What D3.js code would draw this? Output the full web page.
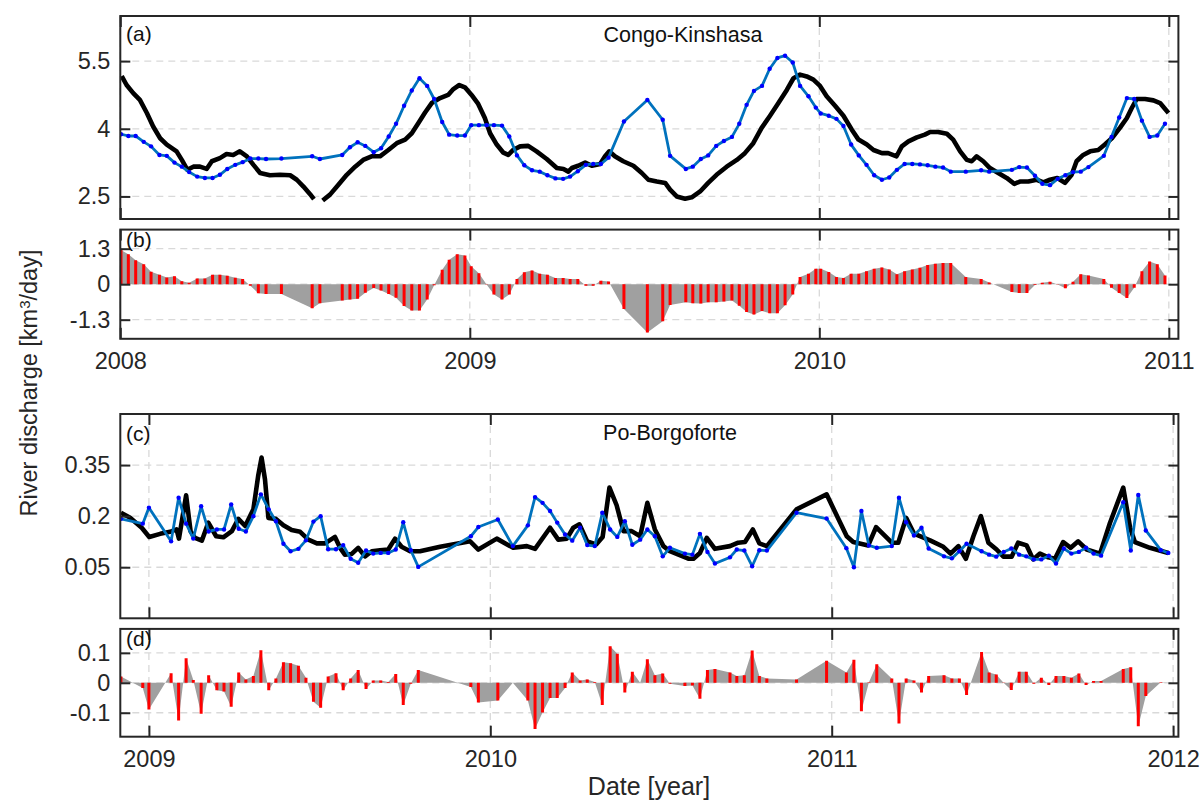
<!DOCTYPE html>
<html>
<head>
<meta charset="utf-8">
<script src="https://cdn.jsdelivr.net/npm/d3@7"></script>
<style>
  html, body { margin: 0; padding: 0; background: #fff; }
  svg { display: block; }
  text { font-family: 'Liberation Sans', Arial, Helvetica, sans-serif; }
</style>
</head>
<body>
<svg id="chart" width="1201" height="803"></svg>
<script>
// ---------------- Congo at Kinshasa (2008-2010) ----------------
// gauge record (decimal year, km3/day); null marks the missing stretch
const congoGaugeYear = [
  2008.004, 2008.018, 2008.037, 2008.056, 2008.076, 2008.094, 2008.114, 2008.133, 2008.161, 2008.176,
  2008.192, 2008.209, 2008.228, 2008.247, 2008.262, 2008.285, 2008.304, 2008.323, 2008.342, 2008.362,
  2008.381, 2008.400, 2008.428, 2008.457, 2008.486, 2008.505, 2008.524, 2008.543, 2008.554, 2008.566,
  2008.579, 2008.600, 2008.624, 2008.648, 2008.672, 2008.695, 2008.719, 2008.743, 2008.767, 2008.791,
  2008.815, 2008.834, 2008.853, 2008.872, 2008.891, 2008.915, 2008.938, 2008.953, 2008.970, 2008.986,
  2009.005, 2009.024, 2009.043, 2009.058, 2009.077, 2009.096, 2009.110, 2009.124, 2009.144, 2009.167,
  2009.191, 2009.220, 2009.249, 2009.268, 2009.282, 2009.292, 2009.310, 2009.330, 2009.349, 2009.373,
  2009.387, 2009.399, 2009.415, 2009.439, 2009.468, 2009.492, 2009.511, 2009.535, 2009.559, 2009.573,
  2009.592, 2009.616, 2009.635, 2009.659, 2009.682, 2009.706, 2009.735, 2009.764, 2009.787, 2009.811,
  2009.835, 2009.859, 2009.883, 2009.907, 2009.926, 2009.945, 2009.964, 2009.983, 2010.002, 2010.021,
  2010.045, 2010.069, 2010.093, 2010.112, 2010.136, 2010.155, 2010.179, 2010.197, 2010.221, 2010.236,
  2010.255, 2010.279, 2010.302, 2010.317, 2010.340, 2010.365, 2010.383, 2010.403, 2010.422, 2010.436,
  2010.450, 2010.469, 2010.488, 2010.512, 2010.536, 2010.558, 2010.574, 2010.598, 2010.622, 2010.641,
  2010.660, 2010.681, 2010.703, 2010.722, 2010.736, 2010.755, 2010.775, 2010.798, 2010.817, 2010.837,
  2010.860, 2010.880, 2010.894, 2010.908, 2010.932, 2010.956, 2010.975, 2010.999
];
const congoGaugeQ = [
  5.17, 4.97, 4.79, 4.64, 4.35, 4.05, 3.79, 3.65, 3.50, 3.31,
  3.09, 3.16, 3.16, 3.11, 3.28, 3.35, 3.44, 3.42, 3.50, 3.39,
  3.20, 3.02, 2.97, 2.98, 2.97, 2.87, 2.72, 2.55, 2.44, null,
  2.41, 2.54, 2.76, 2.98, 3.16, 3.31, 3.39, 3.39, 3.53, 3.68,
  3.76, 3.90, 4.13, 4.36, 4.57, 4.68, 4.75, 4.88, 4.97, 4.92,
  4.75, 4.55, 4.24, 3.90, 3.65, 3.47, 3.42, 3.53, 3.61, 3.62,
  3.50, 3.33, 3.13, 3.11, 3.05, 3.13, 3.18, 3.25, 3.18, 3.22,
  3.39, 3.50, 3.39, 3.28, 3.18, 3.02, 2.87, 2.83, 2.80, 2.65,
  2.50, 2.45, 2.48, 2.61, 2.80, 2.98, 3.16, 3.31, 3.46, 3.68,
  4.02, 4.29, 4.57, 4.86, 5.12, 5.20, 5.16, 5.09, 4.95, 4.72,
  4.51, 4.29, 3.98, 3.76, 3.65, 3.53, 3.46, 3.46, 3.39, 3.61,
  3.72, 3.81, 3.87, 3.93, 3.93, 3.89, 3.76, 3.50, 3.31, 3.28,
  3.39, 3.28, 3.13, 3.02, 2.91, 2.78, 2.83, 2.83, 2.87, 2.81,
  2.87, 2.91, 2.80, 2.98, 3.28, 3.42, 3.50, 3.53, 3.65, 3.79,
  4.02, 4.24, 4.46, 4.66, 4.66, 4.63, 4.57, 4.35
];
// altimetry-based estimate, one value per pass
const congoEstYear = [
  2008.002, 2008.023, 2008.044, 2008.067, 2008.088, 2008.112, 2008.133, 2008.155, 2008.176, 2008.197,
  2008.220, 2008.242, 2008.264, 2008.285, 2008.306, 2008.329, 2008.350, 2008.372, 2008.395, 2008.417,
  2008.461, 2008.549, 2008.571, 2008.635, 2008.657, 2008.679, 2008.701, 2008.725, 2008.746, 2008.768,
  2008.789, 2008.812, 2008.834, 2008.856, 2008.878, 2008.898, 2008.921, 2008.941, 2008.964, 2008.986,
  2009.004, 2009.026, 2009.048, 2009.069, 2009.092, 2009.113, 2009.135, 2009.156, 2009.178, 2009.200,
  2009.222, 2009.245, 2009.267, 2009.287, 2009.309, 2009.332, 2009.353, 2009.375, 2009.397, 2009.441,
  2009.508, 2009.552, 2009.573, 2009.618, 2009.638, 2009.661, 2009.682, 2009.705, 2009.727, 2009.750,
  2009.771, 2009.792, 2009.813, 2009.836, 2009.858, 2009.880, 2009.902, 2009.924, 2009.945, 2009.969,
  2009.990, 2010.004, 2010.027, 2010.049, 2010.069, 2010.091, 2010.113, 2010.135, 2010.157, 2010.179,
  2010.200, 2010.222, 2010.244, 2010.266, 2010.288, 2010.310, 2010.332, 2010.354, 2010.376, 2010.419,
  2010.463, 2010.486, 2010.551, 2010.572, 2010.594, 2010.617, 2010.638, 2010.660, 2010.682, 2010.704,
  2010.726, 2010.748, 2010.770, 2010.814, 2010.836, 2010.858, 2010.880, 2010.901, 2010.923, 2010.945,
  2010.967, 2010.989
];
const congoEstQ = [
  3.88, 3.84, 3.84, 3.71, 3.61, 3.42, 3.40, 3.25, 3.16, 3.04,
  2.94, 2.91, 2.91, 2.98, 3.11, 3.20, 3.26, 3.34, 3.34, 3.33,
  3.34, 3.39, 3.33, 3.42, 3.59, 3.70, 3.62, 3.48, 3.57, 3.83,
  4.11, 4.51, 4.85, 5.12, 4.95, 4.66, 4.15, 3.87, 3.85, 3.85,
  4.08, 4.08, 4.08, 4.08, 4.07, 3.83, 3.41, 3.19, 3.08, 3.05,
  2.97, 2.90, 2.89, 2.94, 3.06, 3.20, 3.22, 3.22, 3.36, 4.16,
  4.64, 4.20, 3.40, 3.11, 3.16, 3.33, 3.41, 3.62, 3.73, 3.82,
  4.11, 4.53, 4.84, 4.95, 5.33, 5.57, 5.62, 5.47, 4.95, 4.72,
  4.47, 4.34, 4.29, 4.22, 4.06, 3.65, 3.41, 3.20, 2.97, 2.87,
  2.92, 3.09, 3.22, 3.22, 3.21, 3.19, 3.16, 3.14, 3.05, 3.05,
  3.08, 3.05, 3.09, 3.15, 3.14, 2.96, 2.78, 2.75, 2.89, 2.97,
  3.04, 3.05, 3.15, 3.40, 3.82, 4.25, 4.68, 4.66, 4.18, 3.82,
  3.85, 4.11
];
// gauge minus estimate at each pass
const congoDiff = [
  1.25, 1.10, 0.88, 0.73, 0.46, 0.35, 0.25, 0.29, 0.11, 0.05,
  0.21, 0.21, 0.35, 0.35, 0.31, 0.24, 0.19, -0.06, -0.33, -0.36,
  -0.36, -0.88, -0.70, -0.60, -0.56, -0.53, -0.31, -0.14, -0.23, -0.36,
  -0.50, -0.80, -0.96, -0.96, -0.56, -0.04, 0.53, 0.90, 1.10, 1.05,
  0.66, 0.40, -0.01, -0.38, -0.56, -0.38, 0.19, 0.44, 0.50, 0.38,
  0.35, 0.23, 0.23, 0.19, 0.19, -0.06, -0.06, 0.13, 0.10, -0.91,
  -1.77, -1.36, -0.76, -0.66, -0.70, -0.71, -0.66, -0.66, -0.63, -0.60,
  -0.79, -1.02, -1.11, -0.98, -1.06, -1.06, -0.77, -0.38, 0.26, 0.38,
  0.57, 0.57, 0.45, 0.26, 0.23, 0.38, 0.38, 0.47, 0.57, 0.61,
  0.54, 0.36, 0.47, 0.54, 0.60, 0.70, 0.75, 0.78, 0.78, 0.26,
  0.19, 0.06, -0.29, -0.32, -0.32, -0.03, 0.05, 0.09, -0.01, -0.15,
  0.09, 0.36, 0.32, 0.19, -0.13, -0.32, -0.51, -0.13, 0.47, 0.83,
  0.73, 0.32
];

// ---------------- Po at Borgoforte (Dec 2008 - 2011) ----------------
const poGaugeYear = [
  2008.918, 2008.945, 2008.979, 2009.001, 2009.033, 2009.062, 2009.081, 2009.088, 2009.109, 2009.122,
  2009.135, 2009.155, 2009.174, 2009.197, 2009.218, 2009.243, 2009.262, 2009.282, 2009.306, 2009.320,
  2009.330, 2009.340, 2009.350, 2009.372, 2009.394, 2009.418, 2009.443, 2009.467, 2009.492, 2009.516,
  2009.545, 2009.560, 2009.574, 2009.594, 2009.613, 2009.633, 2009.653, 2009.677, 2009.701, 2009.721,
  2009.740, 2009.765, 2009.794, 2009.853, 2009.941, 2009.965, 2010.019, 2010.067, 2010.107, 2010.131,
  2010.175, 2010.199, 2010.224, 2010.243, 2010.261, 2010.284, 2010.310, 2010.329, 2010.349, 2010.370,
  2010.390, 2010.414, 2010.439, 2010.460, 2010.482, 2010.507, 2010.526, 2010.551, 2010.580, 2010.595,
  2010.614, 2010.634, 2010.658, 2010.702, 2010.726, 2010.746, 2010.769, 2010.788, 2010.810, 2010.897,
  2010.985, 2011.044, 2011.063, 2011.107, 2011.130, 2011.176, 2011.195, 2011.218, 2011.241, 2011.288,
  2011.327, 2011.348, 2011.371, 2011.393, 2011.415, 2011.437, 2011.459, 2011.483, 2011.503, 2011.527,
  2011.546, 2011.571, 2011.590, 2011.610, 2011.634, 2011.654, 2011.678, 2011.700, 2011.722, 2011.747,
  2011.786, 2011.815, 2011.854, 2011.874, 2011.888, 2011.932, 2011.986
];
const poGaugeQ = [
  0.210, 0.195, 0.166, 0.139, 0.148, 0.154, 0.161, 0.134, 0.261, 0.156,
  0.136, 0.128, 0.181, 0.141, 0.138, 0.156, 0.192, 0.171, 0.220, 0.318,
  0.372, 0.308, 0.195, 0.192, 0.173, 0.159, 0.154, 0.131, 0.120, 0.120,
  0.139, 0.107, 0.087, 0.089, 0.107, 0.082, 0.097, 0.100, 0.102, 0.134,
  0.110, 0.097, 0.097, 0.110, 0.126, 0.102, 0.134, 0.107, 0.112, 0.104,
  0.166, 0.131, 0.134, 0.166, 0.176, 0.126, 0.117, 0.139, 0.284, 0.232,
  0.156, 0.156, 0.141, 0.239, 0.161, 0.112, 0.097, 0.087, 0.075, 0.075,
  0.092, 0.136, 0.104, 0.112, 0.122, 0.124, 0.161, 0.120, 0.112, 0.220,
  0.264, 0.141, 0.124, 0.114, 0.168, 0.122, 0.122, 0.195, 0.149, 0.129,
  0.110, 0.090, 0.112, 0.075, 0.141, 0.200, 0.122, 0.102, 0.081, 0.081,
  0.122, 0.114, 0.073, 0.090, 0.079, 0.075, 0.124, 0.107, 0.126, 0.102,
  0.090, 0.180, 0.284, 0.166, 0.124, 0.107, 0.092
];
const poEstYear = [
  2008.918, 2008.982, 2009.000, 2009.065, 2009.087, 2009.109, 2009.130, 2009.153, 2009.175, 2009.199,
  2009.220, 2009.241, 2009.263, 2009.284, 2009.306, 2009.328, 2009.351, 2009.372, 2009.394, 2009.415,
  2009.438, 2009.460, 2009.482, 2009.503, 2009.525, 2009.548, 2009.569, 2009.591, 2009.613, 2009.636,
  2009.657, 2009.679, 2009.701, 2009.723, 2009.745, 2009.767, 2009.789, 2009.943, 2009.965, 2010.022,
  2010.066, 2010.110, 2010.131, 2010.153, 2010.175, 2010.196, 2010.219, 2010.240, 2010.263, 2010.284,
  2010.306, 2010.328, 2010.351, 2010.372, 2010.394, 2010.416, 2010.439, 2010.460, 2010.482, 2010.505,
  2010.526, 2010.570, 2010.592, 2010.614, 2010.636, 2010.658, 2010.702, 2010.722, 2010.744, 2010.767,
  2010.788, 2010.810, 2010.897, 2010.985, 2011.043, 2011.065, 2011.087, 2011.109, 2011.132, 2011.176,
  2011.197, 2011.218, 2011.241, 2011.263, 2011.284, 2011.329, 2011.352, 2011.374, 2011.395, 2011.439,
  2011.461, 2011.482, 2011.504, 2011.526, 2011.549, 2011.570, 2011.592, 2011.614, 2011.636, 2011.657,
  2011.680, 2011.702, 2011.724, 2011.745, 2011.767, 2011.789, 2011.854, 2011.876, 2011.898, 2011.920,
  2011.964, 2011.986
];
const poEstQ = [
  0.192, 0.178, 0.225, 0.126, 0.254, 0.178, 0.134, 0.229, 0.155, 0.161,
  0.161, 0.234, 0.163, 0.155, 0.200, 0.264, 0.220, 0.185, 0.119, 0.097,
  0.104, 0.129, 0.184, 0.200, 0.103, 0.103, 0.115, 0.075, 0.063, 0.099,
  0.090, 0.092, 0.092, 0.102, 0.182, 0.100, 0.051, 0.141, 0.168, 0.190,
  0.112, 0.173, 0.256, 0.239, 0.215, 0.181, 0.146, 0.128, 0.166, 0.115,
  0.112, 0.210, 0.161, 0.139, 0.185, 0.116, 0.131, 0.161, 0.141, 0.082,
  0.107, 0.090, 0.087, 0.148, 0.095, 0.061, 0.079, 0.102, 0.099, 0.053,
  0.100, 0.099, 0.210, 0.193, 0.106, 0.050, 0.215, 0.114, 0.107, 0.112,
  0.254, 0.182, 0.143, 0.166, 0.105, 0.082, 0.076, 0.097, 0.119, 0.097,
  0.087, 0.081, 0.095, 0.105, 0.087, 0.082, 0.073, 0.073, 0.084, 0.061,
  0.105, 0.090, 0.095, 0.107, 0.090, 0.084, 0.241, 0.099, 0.262, 0.158,
  0.100, 0.092
];
const poDiff = [
  0.021, -0.017, -0.089, 0.032, -0.126, 0.082, 0.009, -0.103, 0.025, -0.025,
  -0.029, -0.080, 0.034, 0.011, 0.023, 0.109, -0.025, 0.014, 0.069, 0.065,
  0.057, 0.017, -0.063, -0.083, 0.021, 0.032, -0.025, 0.014, 0.043, -0.021,
  0.008, 0.008, 0.003, 0.029, -0.074, -0.003, 0.043, -0.014, -0.066, -0.059,
  0.000, -0.059, -0.154, -0.099, -0.051, -0.051, -0.017, 0.034, 0.008, 0.011,
  0.003, -0.074, 0.122, 0.097, -0.032, 0.037, 0.000, 0.079, 0.025, 0.031,
  -0.003, -0.011, -0.009, -0.053, 0.043, 0.046, 0.034, 0.023, 0.025, 0.108,
  0.023, 0.014, 0.011, 0.074, 0.034, 0.077, -0.095, 0.002, 0.062, 0.014,
  -0.136, 0.014, 0.008, -0.032, 0.023, 0.025, 0.014, 0.014, -0.041, 0.103,
  0.034, 0.028, -0.001, -0.024, 0.037, 0.037, -0.003, 0.017, -0.007, 0.023,
  0.023, 0.017, 0.031, -0.007, 0.006, 0.006, 0.046, 0.052, -0.145, -0.044,
  0.002, 0.000
];

// tick values
const congoYearTicks = [2008, 2009, 2010, 2011];
const poYearTicks = [2009, 2010, 2011, 2012];
const congoQTicks = [2.5, 4, 5.5];
const congoDiffTicks = [-1.3, 0, 1.3];
const poQTicks = [0.05, 0.2, 0.35];
const poDiffTicks = [-0.1, 0, 0.1];

// ---------------- layout ----------------
const svg = d3.select('#chart');
const LEFT = 120.3, RIGHT = 1178.4;
const INK = '#262626';
const TICK_FONT = 23.5;

const boxes = {
  a: { top: 16, bottom: 219 },
  b: { top: 229.6, bottom: 338.8 },
  c: { top: 414, bottom: 618.3 },
  d: { top: 628.9, bottom: 736.7 }
};

const xCongo = d3.scaleLinear().domain([2008, 2011.0274]).range([LEFT, RIGHT]);
const xPo = d3.scaleLinear().domain([2008.9162, 2012.0155]).range([LEFT, RIGHT]);
const yA = d3.scaleLinear().domain([2, 6.5]).range([boxes.a.bottom, boxes.a.top]);
const yB = d3.scaleLinear().domain([-2, 2]).range([boxes.b.bottom, boxes.b.top]);
const yC = d3.scaleLinear().domain([-0.1, 0.5]).range([boxes.c.bottom, boxes.c.top]);
const yD = d3.scaleLinear().domain([-0.18, 0.18]).range([boxes.d.bottom, boxes.d.top]);

const numFmt = d => String(d);

// panel with grid, clip region; returns the plotting group
function panel(key, x, y, xTicks, yTicks) {
  const box = boxes[key];
  const g = svg.append('g').attr('class', 'panel-' + key);
  svg.append('clipPath').attr('id', 'clip-' + key)
    .append('rect').attr('x', LEFT).attr('y', box.top)
    .attr('width', RIGHT - LEFT).attr('height', box.bottom - box.top);

  const grid = g.append('g').attr('stroke', '#d9d9d9').attr('stroke-width', 1.3)
    .attr('stroke-dasharray', '7,5').attr('fill', 'none');
  grid.selectAll('.gx').data(xTicks).join('line')
    .attr('x1', d => x(d)).attr('x2', d => x(d))
    .attr('y1', box.top).attr('y2', box.bottom);
  grid.selectAll('.gy').data(yTicks).join('line')
    .attr('y1', d => y(d)).attr('y2', d => y(d))
    .attr('x1', LEFT).attr('x2', RIGHT);

  const plot = g.append('g').attr('clip-path', 'url(#clip-' + key + ')');
  return { g, plot, box };
}

// inward ticks on all four sides, labels left (and bottom when asked), frame
function axes(p, x, y, xTicks, yTicks, showX) {
  const { g, box } = p;
  const styleAxis = sel => {
    sel.select('.domain').remove();
    sel.selectAll('.tick line').attr('stroke', INK).attr('stroke-width', 2);
    sel.selectAll('.tick text').attr('fill', INK)
      .style('font-size', TICK_FONT + 'px')
      .style('font-family', "'Liberation Sans', Arial, Helvetica, sans-serif");
  };
  g.append('g').attr('transform', `translate(${LEFT},0)`)
    .call(d3.axisLeft(y).tickValues(yTicks).tickFormat(numFmt)
      .tickSizeInner(-10).tickSizeOuter(0).tickPadding(10))
    .call(styleAxis);
  g.append('g').attr('transform', `translate(${RIGHT},0)`)
    .call(d3.axisRight(y).tickValues(yTicks).tickFormat('')
      .tickSizeInner(-10).tickSizeOuter(0))
    .call(styleAxis);
  g.append('g').attr('transform', `translate(0,${box.bottom})`)
    .call(d3.axisBottom(x).tickValues(xTicks).tickFormat(showX ? d3.format('d') : '')
      .tickSizeInner(-11).tickSizeOuter(0).tickPadding(14))
    .call(styleAxis);
  g.append('g').attr('transform', `translate(0,${box.top})`)
    .call(d3.axisTop(x).tickValues(xTicks).tickFormat('')
      .tickSizeInner(-11).tickSizeOuter(0))
    .call(styleAxis);
  g.append('rect').attr('x', LEFT).attr('y', box.top)
    .attr('width', RIGHT - LEFT).attr('height', box.bottom - box.top)
    .attr('fill', 'none').attr('stroke', INK).attr('stroke-width', 2);
}

function seriesPanel(key, x, y, xTicks, yTicks, gYear, gQ, eYear, eQ) {
  const p = panel(key, x, y, xTicks, yTicks);
  const gauge = gYear.map((t, i) => ({ t, v: gQ[i] }));
  const est = eYear.map((t, i) => ({ t, v: eQ[i] }));
  const line = d3.line().defined(d => d.v !== null).x(d => x(d.t)).y(d => y(d.v));
  p.plot.append('path').datum(gauge).attr('d', line)
    .attr('fill', 'none').attr('stroke', '#000').attr('stroke-width', 4.6)
    .attr('stroke-linejoin', 'round').attr('stroke-linecap', 'butt');
  p.plot.append('path').datum(est).attr('d', line)
    .attr('fill', 'none').attr('stroke', '#0072BD').attr('stroke-width', 2.8)
    .attr('stroke-linejoin', 'round');
  p.plot.selectAll('circle.pass').data(est).join('circle')
    .attr('class', 'pass').attr('cx', d => x(d.t)).attr('cy', d => y(d.v))
    .attr('r', 2.2).attr('fill', '#0000FF');
  axes(p, x, y, xTicks, yTicks, false);
  return p;
}

function diffPanel(key, x, y, xTicks, yTicks, eYear, diff) {
  const p = panel(key, x, y, xTicks, yTicks);
  const pts = eYear.map((t, i) => ({ t, v: diff[i] }));
  p.plot.append('path').datum(pts)
    .attr('d', d3.area().x(d => x(d.t)).y0(y(0)).y1(d => y(d.v)))
    .attr('fill', '#a0a0a0').attr('stroke', 'none');
  p.plot.selectAll('line.stem').data(pts).join('line')
    .attr('class', 'stem')
    .attr('x1', d => x(d.t)).attr('x2', d => x(d.t))
    .attr('y1', y(0)).attr('y2', d => y(d.v))
    .attr('stroke', '#ff0000').attr('stroke-width', 3);
  axes(p, x, y, xTicks, yTicks, true);
  return p;
}

const pa = seriesPanel('a', xCongo, yA, congoYearTicks, congoQTicks,
  congoGaugeYear, congoGaugeQ, congoEstYear, congoEstQ);
const pb = diffPanel('b', xCongo, yB, congoYearTicks, congoDiffTicks, congoEstYear, congoDiff);
const pc = seriesPanel('c', xPo, yC, poYearTicks, poQTicks,
  poGaugeYear, poGaugeQ, poEstYear, poEstQ);
const pd = diffPanel('d', xPo, yD, poYearTicks, poDiffTicks, poEstYear, poDiff);

// panel letters and station names
const letters = [['(a)', 41], ['(b)', 246.5], ['(c)', 440.5], ['(d)', 646]];
svg.selectAll('text.letter').data(letters).join('text')
  .attr('class', 'letter').attr('x', 126).attr('y', d => d[1])
  .attr('fill', '#111').style('font-size', '21px').text(d => d[0]);

svg.append('text').attr('x', 683).attr('y', 41.5).attr('text-anchor', 'middle')
  .attr('fill', '#111').style('font-size', '21.5px').text('Congo-Kinshasa');
svg.append('text').attr('x', 670).attr('y', 440).attr('text-anchor', 'middle')
  .attr('fill', '#111').style('font-size', '21.5px').text('Po-Borgoforte');

// axis titles
const yTitle = svg.append('text')
  .attr('transform', 'translate(37,383) rotate(-90)')
  .attr('text-anchor', 'middle').attr('fill', INK).style('font-size', '23.5px');
yTitle.append('tspan').text('River discharge [km');
yTitle.append('tspan').attr('baseline-shift', '45%').style('font-size', '15px').text('3');
yTitle.append('tspan').text('/day]');

svg.append('text').attr('x', 649).attr('y', 795).attr('text-anchor', 'middle')
  .attr('fill', INK).style('font-size', '25px').text('Date [year]');
</script>
</body>
</html>
